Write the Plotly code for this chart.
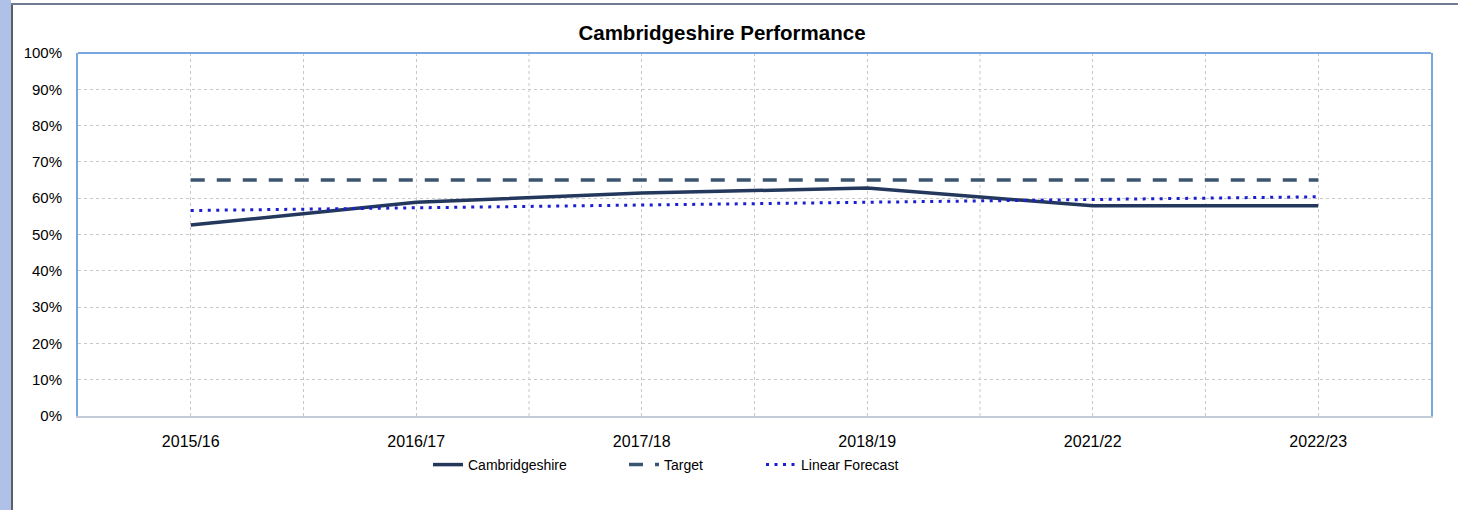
import plotly.graph_objects as go

# 数据
years = ["2015/16", "2016/17", "2017/18", "2018/19", "2021/22", "2022/23"]
cambs = [52.6, 58.9, 61.4, 62.8, 57.9, 57.9]
target = [65, 65, 65, 65, 65, 65]
forecast = [56.6, 57.4, 58.1, 58.8, 59.6, 60.4]
y_ticks = [0, 10, 20, 30, 40, 50, 60, 70, 80, 90, 100]
y_labels = [f"{v}%" for v in y_ticks]

W, H = 1458, 510
FONT = "Arial, Liberation Sans, sans-serif"
GRID = "#c8c8c8"


def px_x(p):
    return p / W


def px_y(p):
    return 1 - p / H


fig = go.Figure()

fig.add_trace(go.Scatter(
    x=years, y=cambs, mode="lines", name="Cambridgeshire",
    line=dict(color="#23385c", width=3.5), legend="legend"
))
fig.add_trace(go.Scatter(
    x=years, y=target, mode="lines", name="Target",
    line=dict(color="#3b546f", width=3.5, dash="14px,12px"), legend="legend2"
))
fig.add_trace(go.Scatter(
    x=years, y=forecast, mode="lines", name="Linear Forecast",
    line=dict(color="#1c1fd0", width=3, dash="3px,5.5px"), legend="legend3"
))

# 类别之间的竖向网格线
shapes = []
for i in range(len(years) - 1):
    shapes.append(dict(
        type="line", xref="x", yref="y domain", x0=i + 0.5, x1=i + 0.5, y0=0, y1=1,
        line=dict(color=GRID, width=1, dash="3px,3px"), layer="below"
    ))

# 外框
shapes.append(dict(type="rect", xref="paper", yref="paper", x0=0, x1=px_x(11), y0=0, y1=1,
                   fillcolor="#afc1e6", line=dict(width=0), layer="below"))
shapes.append(dict(type="line", xref="paper", yref="paper", x0=px_x(12), x1=px_x(12), y0=0, y1=px_y(3),
                   line=dict(color="#5a5f68", width=2)))
shapes.append(dict(type="line", xref="paper", yref="paper", x0=px_x(11), x1=1, y0=px_y(4), y1=px_y(4),
                   line=dict(color="#6f7b90", width=2)))
# 绘图区上边框
shapes.append(dict(type="line", xref="x domain", yref="y domain", x0=0, x1=1, y0=1, y1=1,
                   line=dict(color="#78a6de", width=2)))

legend_common = dict(
    orientation="h", yanchor="middle", xanchor="left", y=px_y(465),
    font=dict(family=FONT, size=14, color="#000000"), bgcolor="rgba(0,0,0,0)",
    itemwidth=30
)

fig.update_layout(
    width=W, height=H,
    margin=dict(l=0, r=0, t=0, b=0, autoexpand=False),
    paper_bgcolor="white", plot_bgcolor="white",
    title=dict(text="<b>Cambridgeshire Performance</b>", x=px_x(722), xanchor="center",
               y=px_y(33), yanchor="middle", font=dict(family=FONT, size=20.5, color="#000000")),
    font=dict(family=FONT, size=15, color="#000000"),
    xaxis=dict(
        type="category", domain=[px_x(78), px_x(1431)], range=[-0.5, len(years) - 0.5],
        showgrid=True, gridcolor=GRID, griddash="3px,3px", gridwidth=1,
        showline=True, linecolor="#c3cad8", linewidth=2,
        ticks="", ticklabelstandoff=10, tickfont=dict(size=16), zeroline=False,
        automargin=False
    ),
    yaxis=dict(
        domain=[px_y(416), px_y(53)], range=[0, 100], tickvals=y_ticks, ticktext=y_labels,
        showgrid=True, gridcolor=GRID, griddash="3px,3px", gridwidth=1,
        showline=True, linecolor="#78a6de", linewidth=2, mirror=True,
        ticks="", ticklabelstandoff=11, tickfont=dict(size=15), zeroline=False,
        automargin=False
    ),
    legend=dict(x=px_x(428), **legend_common),
    legend2=dict(x=px_x(624), **legend_common),
    legend3=dict(x=px_x(761), **legend_common),
    shapes=shapes,
    showlegend=True,
)

fig.write_html("out.html", config={"displayModeBar": False},
               post_script="document.body.style.margin='0';")
